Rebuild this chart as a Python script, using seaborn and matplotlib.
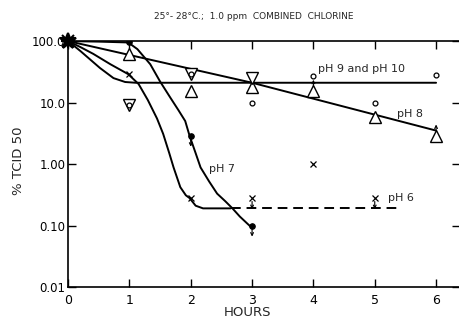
import numpy as np
import pandas as pd
import matplotlib
matplotlib.use("Agg")
import matplotlib.pyplot as plt
import seaborn as sns

# measured points (hours, % TCID 50)
ph7_hours = [0, 1, 2, 3]
ph7_titer = [100, 95, 2.9, 0.10]
ph6_hours = [0, 1, 2, 3, 4, 5]
ph6_titer = [100, 29, 0.28, 0.28, 1.0, 0.28]
ph8_hours = [0, 1, 2, 3, 4, 5, 6]
ph8_titer = [100, 62, 15.5, 18, 15.5, 5.9, 2.9]
ph9_hours = [0, 1, 2, 3]
ph9_titer = [100, 9, 29, 25]
ph10_hours = [0, 1, 2, 3, 4, 5, 6]
ph10_titer = [100, 9, 29, 10, 27, 10, 28]

# hand drawn curves
ph7_curve_h = [0, 0.5, 0.98, 1.13, 1.34, 1.5, 1.67, 1.8, 1.91, 1.98, 2.08, 2.16, 2.3, 2.43, 2.56, 2.68, 2.8, 2.92, 2.99]
ph7_curve_v = [100, 98, 95, 74, 42, 22, 11.9, 7.5, 5.0, 2.9, 1.5, 0.88, 0.52, 0.33, 0.25, 0.19, 0.14, 0.108, 0.093]
ph6_curve_h = [0, 0.2, 0.41, 0.69, 0.98, 1.15, 1.3, 1.45, 1.55, 1.65, 1.72, 1.83, 1.92, 1.98, 2.08, 2.2, 2.65]
ph6_curve_v = [100, 80, 62, 42, 29, 20, 11, 5.5, 3.1, 1.5, 0.88, 0.42, 0.31, 0.28, 0.21, 0.19, 0.19]
ph6_dash_h = [2.65, 5.4]
ph6_dash_v = [0.19, 0.19]
ph8_line_h = [0, 3, 6]
ph8_line_v = [100, 21, 3.5]
ph910_curve_h = [0, 0.2, 0.52, 0.74, 0.93, 1.1, 6.0]
ph910_curve_v = [100, 69, 36.5, 25, 21.6, 21, 21]

# points with an arrow (value is a limit)
down_h = [2, 3, 3, 5]
down_v = [2.9, 0.10, 0.28, 0.28]
up_h = [4, 6]
up_v = [15.5, 2.9]

yticks = [0.01, 0.1, 1, 10, 100]
ytick_labels = ["0.01", "0.10", "1.00", "10.0", "100.0"]
xticks = [0, 1, 2, 3, 4, 5, 6]

sns.set_style("ticks")
plt.rcParams['font.family'] = ['DejaVu Sans']

fig = plt.figure(figsize=(4.6, 3.21), dpi=100)
ax = fig.add_axes([0.148, 0.106, 0.852, 0.766])
ax.set_yscale('log')

lw = 1.4
for h, v, ls in [(ph7_curve_h, ph7_curve_v, '-'),
                 (ph6_curve_h, ph6_curve_v, '-'),
                 (ph6_dash_h, ph6_dash_v, (0, (5, 3))),
                 (ph8_line_h, ph8_line_v, '-'),
                 (ph910_curve_h, ph910_curve_v, '-')]:
    sns.lineplot(x=h, y=v, color='black', lw=lw, linestyle=ls,
                 sort=False, estimator=None, ax=ax)

# markers
sns.lineplot(x=ph8_hours[1:], y=ph8_titer[1:], linestyle='none', marker='^',
             ms=8, mfc='white', mec='black', mew=1.0, estimator=None, ax=ax)
sns.lineplot(x=ph9_hours[1:], y=ph9_titer[1:], linestyle='none', marker='v',
             ms=8, mfc='white', mec='black', mew=1.0, estimator=None, ax=ax)
sns.lineplot(x=ph10_hours[1:], y=ph10_titer[1:], linestyle='none', marker='o',
             ms=3.5, mfc='white', mec='black', mew=0.9, estimator=None, ax=ax)
sns.lineplot(x=ph6_hours[1:], y=ph6_titer[1:], linestyle='none', marker='x',
             ms=5, mec='black', mew=0.9, estimator=None, ax=ax)
sns.lineplot(x=ph7_hours[1:], y=ph7_titer[1:], linestyle='none', marker='o',
             ms=4, mfc='black', mec='black', estimator=None, ax=ax)

# starburst where all series start
for m, s in [('*', 12), ('x', 9), ('+', 10), ('o', 5)]:
    ax.plot(ph7_hours[0], ph7_titer[0], marker=m, ms=s, color='black',
            mew=1.5, clip_on=False, zorder=5)

arrow = dict(arrowstyle='<-', lw=0.8, color='black', mutation_scale=5)
for h, v in zip(down_h, down_v):
    ax.annotate('', xy=(h, v), xytext=(0, -8), textcoords='offset points',
                arrowprops=dict(arrow, shrinkA=0, shrinkB=2.5))
for h, v in zip(up_h, up_v):
    ax.annotate('', xy=(h, v), xytext=(0, 8), textcoords='offset points',
                arrowprops=dict(arrow, shrinkA=0, shrinkB=3.5))

ax.text(4.08, 35, "pH 9 and pH 10", fontsize=8, va='center', ha='left')
ax.text(5.36, 6.6, "pH 8", fontsize=8, va='center', ha='left')
ax.text(2.29, 0.84, "pH 7", fontsize=8, va='center', ha='left')
ax.text(5.21, 0.285, "pH 6", fontsize=8, va='center', ha='left')

ax.set_xlim(0, 6.39)
ax.set_ylim(0.01, 100)
ax.set_xticks(xticks)
ax.set_yticks(yticks)
ax.set_yticklabels(ytick_labels)
ax.minorticks_off()
ax.tick_params(axis='both', direction='in', length=6, width=1, labelsize=8.5,
               colors='black')
ax.tick_params(axis='x', top=True, pad=5, labelsize=9)
ax.tick_params(axis='y', right=True, pad=2)
ax.spines['right'].set_visible(False)
for side in ['left', 'top', 'bottom']:
    ax.spines[side].set_linewidth(1.2)
    ax.spines[side].set_color('black')

fig.text(0.552, 0.948, "25°- 28°C.;  1.0 ppm  COMBINED  CHLORINE",
         fontsize=6.5, ha='center', va='center')
fig.text(0.537, 0.025, "HOURS", fontsize=9.5, ha='center', va='center')
fig.text(0.04, 0.5, "% TCID 50", fontsize=9.5, rotation=90,
         ha='center', va='center')

fig.savefig("out.png", dpi=100)
